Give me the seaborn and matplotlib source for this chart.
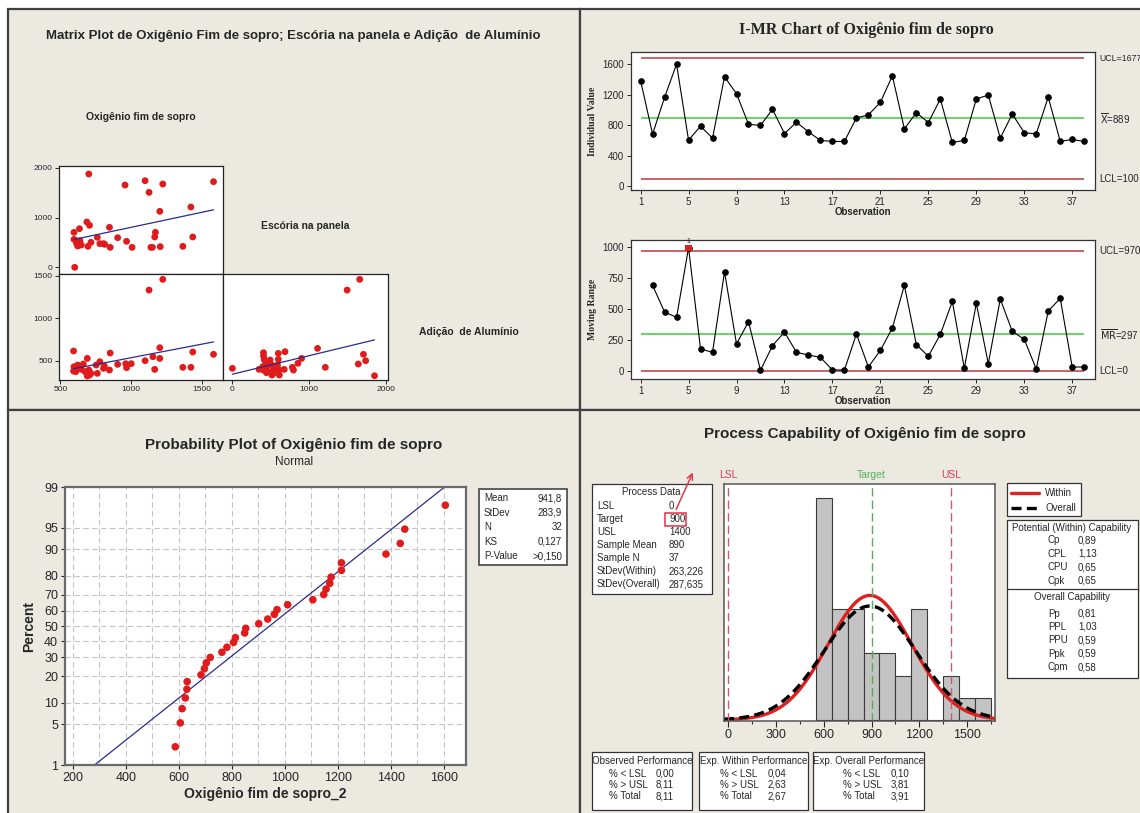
import numpy as np
import pandas as pd
import matplotlib
matplotlib.use('Agg')
import matplotlib.pyplot as plt
from matplotlib.patches import Rectangle, FancyArrowPatch
import seaborn as sns
from statistics import NormalDist

# ---------------- data ----------------
# matrix plot: Oxigênio (x) vs Escória (y)
oxi_a = [702, 958, 1100, 1225, 1128, 1584, 1424, 1204, 688, 707, 636, 597, 848, 762, 906, 969, 1173, 1168,
         1437, 597, 613, 639, 615, 623, 696, 717, 780, 806, 814, 853, 1008, 1141, 1152, 1207, 1367, 602, 649]
esc_a = [1873, 1652, 1739, 1672, 1505, 1719, 1211, 1124, 910, 843, 776, 702, 803, 602, 595, 522, 702, 609,
         609, 562, 535, 535, 482, 428, 421, 502, 475, 475, 462, 401, 401, 401, 401, 415, 421, 0, 448]
# Oxigênio (x) vs Adição de Alumínio (y)
oxi_b = [594, 691, 853, 1204, 1437, 1584, 1128, 1225, 1100, 1155, 1204, 1002, 963, 969, 906, 812, 780, 806,
         848, 762, 702, 707, 717, 691, 623, 639, 610, 594, 610, 597, 1168, 1367, 1424, 649, 675, 754, 663]
alu_b = [614, 527, 590, 653, 602, 575, 1331, 1457, 500, 547, 527, 465, 465, 418, 457, 437, 488, 410,
         390, 351, 390, 331, 351, 320, 449, 429, 410, 378, 371, 429, 398, 422, 422, 398, 371, 449, 461]
# Escória (x) vs Adição de Alumínio (y)
esc_c = [5, 409, 409, 418, 437, 399, 409, 447, 476, 519, 543, 495, 543, 615, 591, 601, 601, 688, 678, 615,
         519, 784, 856, 904, 798, 1111, 1212, 1495, 1659, 1640, 1707, 1736, 1851, 447, 351, 495]
alu_c = [410, 594, 555, 516, 469, 429, 390, 429, 476, 449, 410, 371, 359, 390, 449, 516, 586, 606, 398, 331,
         331, 422, 469, 527, 390, 645, 422, 1331, 1457, 461, 575, 500, 323, 359, 398, 508]

# I-MR chart
i_values = [1383, 683, 1165, 1600, 604, 787, 630, 1435, 1213, 813, 796, 1009, 691, 839, 713, 600, 587, 587,
            896, 935, 1100, 1448, 752, 965, 835, 1143, 574, 600, 1143, 1196, 630, 948, 700, 687, 1170, 587,
            613, 587]
mr_values = [693, 477, 434, 997, 178, 151, 803, 218, 399, 5, 205, 315, 151, 129, 110, 8, 8, 299, 32, 167,
             348, 693, 213, 119, 296, 563, 22, 547, 59, 582, 321, 256, 16, 485, 588, 32, 32]
i_limits = {'UCL': 1677, 'CL': 889, 'LCL': 100}
mr_limits = {'UCL': 970, 'CL': 297, 'LCL': 0}

# probability plot (sorted sample)
prob_x = [586, 605, 612, 624, 630, 631, 683, 696, 703, 718, 762, 781, 806, 813, 848, 852, 901, 935, 960,
          970, 1010, 1105, 1146, 1155, 1169, 1174, 1213, 1213, 1381, 1435, 1452, 1605]
prob_mean, prob_sd = 941.8, 283.9
prob_pct_ticks = [1, 5, 10, 20, 30, 40, 50, 60, 70, 80, 90, 95, 99]
prob_stats_lab = ['Mean', 'StDev', 'N', 'KS', 'P-Value']
prob_stats_val = ['941,8', '283,9', '32', '0,127', '>0,150']

# process capability
hist_centers = [600, 700, 800, 900, 1000, 1100, 1200, 1300, 1400, 1500, 1600]
hist_counts = [10, 5, 5, 3, 3, 2, 5, 0, 2, 1, 1]
cap_mean, sd_within, sd_overall, cap_n = 890, 263.226, 287.635, 37
lsl, target, usl = 0, 900, 1400
proc_lab = ['LSL', 'Target', 'USL', 'Sample Mean', 'Sample N', 'StDev(Within)', 'StDev(Overall)']
proc_val = ['0', '900', '1400', '890', '37', '263,226', '287,635']
pot_lab = ['Cp', 'CPL', 'CPU', 'Cpk']
pot_val = ['0,89', '1,13', '0,65', '0,65']
ovr_lab = ['Pp', 'PPL', 'PPU', 'Ppk', 'Cpm']
ovr_val = ['0,81', '1,03', '0,59', '0,59', '0,58']
perf_lab = ['% < LSL', '% > USL', '% Total']
perf_obs = ['0,00', '8,11', '8,11']
perf_within = ['0,04', '2,63', '2,67']
perf_overall = ['0,10', '3,81', '3,91']

# ---------------- figure ----------------
sns.set_style('ticks')
plt.rcParams['font.family'] = ['Liberation Sans', 'DejaVu Sans']
plt.rcParams['axes.linewidth'] = 0.9

W, H = 1140, 813
fig = plt.figure(figsize=(W / 100, H / 100), dpi=100, facecolor='white')
ov = fig.add_axes([0, 0, 1, 1])
ov.set_xlim(0, W)
ov.set_ylim(H, 0)
ov.axis('off')


def add_ax(l, t, r, b):
    return fig.add_axes([l / W, 1 - b / H, (r - l) / W, (b - t) / H])


def rect(l, t, r, b, **kw):
    kw.setdefault('facecolor', 'white')
    kw.setdefault('edgecolor', '#333333')
    kw.setdefault('lw', 0.9)
    ov.add_patch(Rectangle((l, t), r - l, b - t, **kw))


bg = '#ece9e1'
for l, t, r, b in [(8, 9, 580, 410), (580, 9, 1150, 410), (8, 410, 580, 820), (580, 410, 1150, 820)]:
    rect(l, t, r, b, facecolor=bg, edgecolor='#404040', lw=1.6)

RED = '#e01b1b'
NAVY = '#2b2b8c'

# ---------------- matrix plot ----------------
ov.text(293, 36, 'Matrix Plot de Oxigênio Fim de sopro; Escória na panela e Adição  de Alumínio',
        ha='center', va='center', fontsize=9.5, fontweight='bold')
ov.text(141, 117, 'Oxigênio fim de sopro', ha='center', va='center', fontsize=7.5, fontweight='bold')
ov.text(305, 226, 'Escória na panela', ha='center', va='center', fontsize=7.5, fontweight='bold')
ov.text(469, 332, 'Adição  de Alumínio', ha='center', va='center', fontsize=7.5, fontweight='bold')

cells = [
    (oxi_a, esc_a, (59, 166, 223, 274), (491, 1651), (-134, 2034), None, [0, 1000, 2000]),
    (oxi_b, alu_b, (59, 274, 223, 380), (491, 1651), (273, 1520), [500, 1000, 1500], [500, 1000, 1500]),
    (esc_c, alu_c, (223, 274, 388, 380), (-117, 2026), (273, 1520), [0, 1000, 2000], None),
]
for xs, ys, pos, xl, yl, xt, yt in cells:
    ax = add_ax(*pos)
    ax.set_facecolor('white')
    sns.regplot(x=xs, y=ys, ci=None, ax=ax,
                scatter_kws=dict(s=24, color=RED, edgecolors='none', alpha=1),
                line_kws=dict(color=NAVY, lw=0.9))
    ax.set_xlim(*xl)
    ax.set_ylim(*yl)
    ax.set_xticks(xt if xt else [])
    ax.set_yticks(yt if yt else [])
    ax.tick_params(labelsize=6, length=3, width=0.7, pad=1.5)
    for s in ax.spines.values():
        s.set_color('#222222')

# ---------------- I-MR chart ----------------
ov.text(866, 30, 'I-MR Chart of Oxigênio fim de sopro', ha='center', va='center',
        fontsize=11.5, fontweight='bold', family='Liberation Serif')

obs = np.arange(1, len(i_values) + 1)
obs_mr = obs[1:]
LIM_RED = '#b8383c'
LIM_GREEN = '#3acb3a'


def control_panel(ax, x, y, lims, labels, ylim, yticks, ylabel):
    ax.set_facecolor('white')
    ax.hlines([lims['UCL'], lims['LCL']], obs[0], obs[-1], color=LIM_RED, lw=1.1)
    ax.hlines(lims['CL'], obs[0], obs[-1], color=LIM_GREEN, lw=1.1)
    sns.lineplot(x=x, y=y, ax=ax, color='black', lw=0.8, marker='o', markersize=4,
                 markeredgecolor='black')
    ax.set_xlim(0.2, 38.9)
    ax.set_ylim(*ylim)
    ax.set_xticks(np.arange(1, 38, 4))
    ax.set_yticks(yticks)
    ax.tick_params(labelsize=7, length=3, width=0.7, pad=2)
    ax.set_xlabel('Observation', fontsize=7, fontweight='bold', labelpad=0)
    ax.set_ylabel(ylabel, fontsize=7, fontweight='bold', family='Liberation Serif', labelpad=4)
    tr = ax.get_yaxis_transform()
    for key, lab in zip(['UCL', 'CL', 'LCL'], labels):
        size = 6.3 if len(lab) > 7 and key == 'UCL' else 7
        ax.text(1.01, lims[key], lab, transform=tr, fontsize=size, va='center', ha='left')
    for s in ax.spines.values():
        s.set_color('#333333')


ax_i = add_ax(631, 52, 1095, 190)
control_panel(ax_i, obs, i_values, i_limits,
              ['UCL=1677', r'$\overline{\mathrm{X}}$=889', 'LCL=100'],
              (-50, 1760), [0, 400, 800, 1200, 1600], 'Individual Value')

ax_m = add_ax(631, 240, 1095, 379)
control_panel(ax_m, obs_mr, mr_values, mr_limits,
              ['UCL=970', r'$\overline{\mathrm{MR}}$=297', 'LCL=0'],
              (-65, 1060), [0, 250, 500, 750, 1000], 'Moving Range')
mr_arr = np.array(mr_values)
out = mr_arr > mr_limits['UCL']
sns.scatterplot(x=obs_mr[out], y=mr_arr[out], ax=ax_m, marker='s', color='#e02020', s=22,
                edgecolor='none', zorder=5)
for xo, yo in zip(obs_mr[out], mr_arr[out]):
    ax_m.text(xo, yo + 25, '1', fontsize=5, ha='center', va='bottom')

# ---------------- probability plot ----------------
ov.text(294, 445, 'Probability Plot of Oxigênio fim de sopro', ha='center', va='center',
        fontsize=11, fontweight='bold')
ov.text(294, 462, 'Normal', ha='center', va='center', fontsize=8.5)

nd = NormalDist()
n = len(prob_x)
pct = (np.arange(1, n + 1) - 0.3) / (n + 0.4)
z_pts = [nd.inv_cdf(p) for p in pct]
z_end = np.array([nd.inv_cdf(0.01), nd.inv_cdf(0.99)])

ax_p = add_ax(65, 487, 466, 765)
ax_p.set_facecolor('white')
sns.lineplot(x=prob_mean + z_end * prob_sd, y=z_end, ax=ax_p, color=NAVY, lw=0.9, zorder=2)
sns.scatterplot(x=prob_x, y=z_pts, ax=ax_p, color=RED, s=30, edgecolor='none', zorder=3)
ax_p.set_xlim(170, 1683)
ax_p.set_ylim(z_end[0], z_end[1])
ax_p.set_xticks(np.arange(200, 1601, 200))
ax_p.set_xticks(np.arange(300, 1601, 200), minor=True)
ax_p.set_yticks([nd.inv_cdf(p / 100) for p in prob_pct_ticks])
ax_p.set_yticklabels([str(p) for p in prob_pct_ticks])
ax_p.grid(True, which='both', axis='x', color='#c4c4c4', lw=0.8, ls=(0, (5, 3)))
ax_p.grid(True, which='major', axis='y', color='#c4c4c4', lw=0.8, ls=(0, (5, 3)))
ax_p.set_axisbelow(True)
ax_p.tick_params(which='major', labelsize=9, length=3, width=0.8, pad=2)
ax_p.tick_params(which='minor', length=0)
ax_p.set_xlabel('Oxigênio fim de sopro_2', fontsize=10, fontweight='bold', labelpad=2)
ax_p.set_ylabel('Percent', fontsize=10, fontweight='bold', labelpad=6)
for s in ax_p.spines.values():
    s.set_color('#6a6a6a')
    s.set_linewidth(1.6)

rect(479, 489, 567, 565, edgecolor='#444444', lw=1.2)
for k, (lab, val) in enumerate(zip(prob_stats_lab, prob_stats_val)):
    y = 498 + k * 14.5
    ov.text(484, y, lab, fontsize=7, va='center', ha='left')
    ov.text(562, y, val, fontsize=7, va='center', ha='right')

# ---------------- process capability ----------------
ov.text(865, 434, 'Process Capability of Oxigênio fim de sopro', ha='center', va='center',
        fontsize=11, fontweight='bold')

bw = hist_centers[1] - hist_centers[0]
edges = [c - bw / 2 for c in hist_centers] + [hist_centers[-1] + bw / 2]
hist_df = pd.DataFrame({'oxigenio': hist_centers, 'n': hist_counts})
ax_c = add_ax(724, 484, 995, 721)
ax_c.set_facecolor('white')
sns.histplot(data=hist_df, x='oxigenio', weights='n', bins=edges, ax=ax_c, color='#c3c3c3',
             edgecolor='#3a3a3a', linewidth=0.8, alpha=1)
xg = np.linspace(-27, 1676, 400)
within = [cap_n * bw * NormalDist(cap_mean, sd_within).pdf(v) for v in xg]
overall = [cap_n * bw * NormalDist(cap_mean, sd_overall).pdf(v) for v in xg]
sns.lineplot(x=xg, y=within, ax=ax_c, color='#dd2020', lw=2.4)
sns.lineplot(x=xg, y=overall, ax=ax_c, color='black', lw=2.4, ls=(0, (3, 1.6)))
ax_c.axvline(lsl, color='#c85a70', lw=1, ls=(0, (6, 3)))
ax_c.axvline(usl, color='#c85a70', lw=1, ls=(0, (6, 3)))
ax_c.axvline(target, color='#5aa85a', lw=1, ls=(0, (6, 3)))
tr = ax_c.get_xaxis_transform()
ax_c.text(lsl, 1.015, 'LSL', transform=tr, color='#d83a55', fontsize=7.5, ha='center', va='bottom')
ax_c.text(usl, 1.015, 'USL', transform=tr, color='#d83a55', fontsize=7.5, ha='center', va='bottom')
ax_c.text(target, 1.015, 'Target', transform=tr, color='#58b058', fontsize=7.5, ha='center', va='bottom')
ax_c.set_xlim(-27, 1676)
ax_c.set_ylim(-0.05, 10.63)
ax_c.set_yticks([])
ax_c.set_ylabel('')
ax_c.set_xlabel('')
ax_c.set_xticks(np.arange(0, 1501, 300))
ax_c.set_xticks(np.arange(150, 1651, 300), minor=True)
ax_c.tick_params(which='major', labelsize=9, length=4, width=0.8, pad=2)
ax_c.tick_params(which='minor', length=2.5, width=0.8)
for s in ax_c.spines.values():
    s.set_color('#555555')
    s.set_linewidth(1.1)

# process data box
rect(592, 484, 712, 594)
ov.text(651, 492, 'Process Data', fontsize=7, ha='center', va='center')
for k, (lab, val) in enumerate(zip(proc_lab, proc_val)):
    y = 506 + k * 13.0
    ov.text(597, y, lab, fontsize=7, va='center', ha='left')
    ov.text(669, y, val, fontsize=7, va='center', ha='left')
rect(665, 512.5, 686, 525.5, facecolor='none', edgecolor='#e03040', lw=1.1)
ov.add_patch(FancyArrowPatch((675, 512), (694, 470), arrowstyle='->', mutation_scale=10,
                             color='#e03848', lw=1.1))

# legend box
rect(1007, 483, 1081, 516)
ov.plot([1011, 1039], [492.5, 492.5], color='#dd2020', lw=2.4)
ov.plot([1011, 1039], [508, 508], color='black', lw=2.4, ls=(0, (3, 1.6)))
ov.text(1045, 492.5, 'Within', fontsize=7, va='center')
ov.text(1045, 508, 'Overall', fontsize=7, va='center')

# capability box
rect(1007, 520, 1138, 678)
ov.plot([1007, 1138], [588.5, 588.5], color='#333333', lw=0.9)
ov.text(1072, 527.5, 'Potential (Within) Capability', fontsize=7, ha='center', va='center')
for k, (lab, val) in enumerate(zip(pot_lab, pot_val)):
    y = 540 + k * 13.6
    ov.text(1048, y, lab, fontsize=7, va='center')
    ov.text(1078, y, val, fontsize=7, va='center')
ov.text(1072, 597, 'Overall Capability', fontsize=7, ha='center', va='center')
for k, (lab, val) in enumerate(zip(ovr_lab, ovr_val)):
    y = 613.5 + k * 13.4
    ov.text(1048, y, lab, fontsize=7, va='center')
    ov.text(1078, y, val, fontsize=7, va='center')

# performance boxes
perf_boxes = [
    ((592, 692), 'Observed Performance', perf_obs, 609, 656),
    ((699, 808), 'Exp. Within Performance', perf_within, 720, 768),
    ((813, 924), 'Exp. Overall Performance', perf_overall, 843, 891),
]
for (l, r), title, vals, xl, xv in perf_boxes:
    rect(l, 752, r, 810)
    ov.text((l + r) / 2, 761, title, fontsize=7, ha='center', va='center')
    for k, (lab, val) in enumerate(zip(perf_lab, vals)):
        y = 773.5 + k * 11.3
        ov.text(xl, y, lab, fontsize=7, va='center')
        ov.text(xv, y, val, fontsize=7, va='center')

fig.savefig('out.png', dpi=100, facecolor='white')
